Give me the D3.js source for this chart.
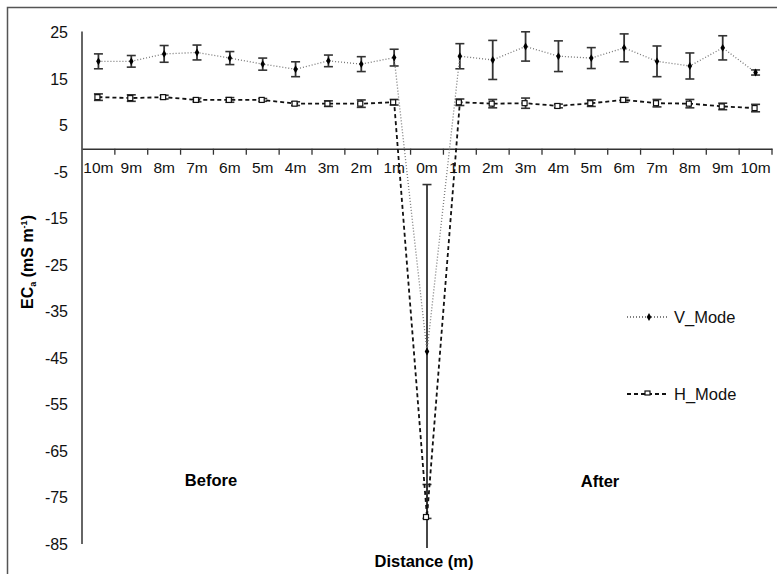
<!DOCTYPE html>
<html><head><meta charset="utf-8">
<script src="https://cdn.jsdelivr.net/npm/d3@7"></script>
<style>body{margin:0;background:#fff}svg{display:block;font-family:"Liberation Sans",Arial,sans-serif}</style>
</head><body>
<script>
const categories = ["10m","9m","8m","7m","6m","5m","4m","3m","2m","1m","0m","1m","2m","3m","4m","5m","6m","7m","8m","9m","10m"];
const vMode = [18.8,18.8,20.4,20.7,19.5,18.2,17.1,18.9,18.2,19.6,-43.6,19.9,19.1,22.0,19.9,19.5,21.7,18.8,17.8,21.7,16.4];
const vErr  = [1.6,1.25,1.8,1.6,1.4,1.3,1.6,1.25,1.6,1.8,35.9,2.7,4.2,3.15,3.3,2.25,3.0,3.3,2.8,2.6,0.55];
const hMode = [11.1,10.9,11.1,10.5,10.5,10.5,9.7,9.7,9.7,10.0,-79.2,10.0,9.7,9.8,9.2,9.8,10.5,9.8,9.7,9.1,8.75];
const hErr  = [0.7,0.7,0.4,0.4,0.5,0.3,0.4,0.6,0.8,0.6,7.0,0.7,0.9,1.1,0.4,0.7,0.5,0.8,0.9,0.7,0.8];
const yTicks = [25,15,5,-5,-15,-25,-35,-45,-55,-65,-75,-85];

const W=777,H=574;
const svg=d3.select("body").append("svg").attr("width",W).attr("height",H);
svg.append("defs").append("clipPath").attr("id","clip").append("rect")
  .attr("x",0).attr("y",0).attr("width",W).attr("height",548);
// outer frame (top & left visible)
svg.append("rect").attr("x",7.5).attr("y",7.5).attr("width",W+20).attr("height",H+20)
  .attr("fill","none").attr("stroke","#555").attr("stroke-width",1.5);

const x0=82,x1=772;
const x=d3.scaleBand().domain(d3.range(categories.length)).range([x0,x1]).padding(0);
const y=d3.scaleLinear().domain([-85,25]).range([544,32.5]);
const cx=i=>x(i)+x.bandwidth()/2;

// y axis line
svg.append("line").attr("x1",x0).attr("x2",x0).attr("y1",y(25)-1).attr("y2",y(-85))
  .attr("stroke","#333").attr("stroke-width",1.5);
// y tick labels
svg.append("g").selectAll("text").data(yTicks).join("text")
  .attr("x",68).attr("y",d=>y(d)).attr("dy","0.35em").attr("text-anchor","end")
  .attr("font-size",16).attr("fill","#111").text(d=>d);

// x axis at 0
const xAxis=d3.axisBottom(x).tickSize(0).tickFormat(i=>categories[i]);
const gx=svg.append("g").attr("transform",`translate(0,${y(0)})`).call(xAxis);
gx.select(".domain").attr("stroke","#333").attr("stroke-width",1.5);
gx.selectAll("text").attr("font-size",15.5).attr("fill","#111").attr("dy","0").attr("y",24).attr("font-family","Liberation Sans, Arial, sans-serif");
// boundary tick marks
svg.append("g").selectAll("line").data(d3.range(1,categories.length+1)).join("line")
  .attr("x1",i=>i<categories.length?x(i):x1).attr("x2",i=>i<categories.length?x(i):x1)
  .attr("y1",y(0)).attr("y2",y(0)+6).attr("stroke","#333").attr("stroke-width",1.3);

// error bars
function errBars(vals,errs){
  const g=svg.append("g").attr("clip-path","url(#clip)");
  vals.forEach((v,i)=>{
    const xx=cx(i), t=y(v+errs[i]), b=y(v-errs[i]);
    g.append("line").attr("x1",xx).attr("x2",xx).attr("y1",t).attr("y2",b).attr("stroke","#333").attr("stroke-width",1.8);
    g.append("line").attr("x1",xx-4.5).attr("x2",xx+4.5).attr("y1",t).attr("y2",t).attr("stroke","#333").attr("stroke-width",1.6);
    g.append("line").attr("x1",xx-4.5).attr("x2",xx+4.5).attr("y1",b).attr("y2",b).attr("stroke","#333").attr("stroke-width",1.6);
  });
}
errBars(vMode,vErr);
errBars(hMode,hErr);

const line=d3.line().x((d,i)=>cx(i)).y(d=>y(d));
svg.append("path").datum(vMode).attr("d",line).attr("fill","none")
  .attr("stroke","#777").attr("stroke-width",1.3).attr("stroke-dasharray","1,2");
svg.append("path").datum(hMode).attr("d",line).attr("fill","none")
  .attr("stroke","#111").attr("stroke-width",1.8).attr("stroke-dasharray","4,3");

// markers
svg.append("g").selectAll("path").data(vMode).join("path")
  .attr("d",d3.symbol(d3.symbolDiamond,18)).attr("transform",(d,i)=>`translate(${cx(i)},${y(d)})`).attr("fill","#000");
svg.append("g").selectAll("rect").data(hMode).join("rect")
  .attr("x",(d,i)=>cx(i)-3.5).attr("y",d=>y(d)-2.5).attr("width",5).attr("height",5)
  .attr("fill","#fff").attr("stroke","#111").attr("stroke-width",1.2);

// legend
const lg=svg.append("g");
lg.append("line").attr("x1",627).attr("x2",668).attr("y1",317).attr("y2",317).attr("stroke","#555").attr("stroke-width",1.3).attr("stroke-dasharray","1,2");
lg.append("path").attr("d",d3.symbol(d3.symbolDiamond,18)).attr("transform","translate(649,317)").attr("fill","#000");
lg.append("text").attr("x",674).attr("y",317).attr("dy","0.35em").attr("font-size",16.5).attr("fill","#111").text("V_Mode");
lg.append("line").attr("x1",627).attr("x2",668).attr("y1",394).attr("y2",394).attr("stroke","#111").attr("stroke-width",1.8).attr("stroke-dasharray","4,3");
lg.append("rect").attr("x",645).attr("y",391).attr("width",5).attr("height",4).attr("fill","#fff").attr("stroke","#111").attr("stroke-width",1.2);
lg.append("text").attr("x",674).attr("y",394).attr("dy","0.35em").attr("font-size",16.5).attr("fill","#111").text("H_Mode");

// annotations
svg.append("text").attr("x",211).attr("y",480).attr("dy","0.35em").attr("text-anchor","middle").attr("font-size",16.5).attr("font-weight","bold").text("Before");
svg.append("text").attr("x",600).attr("y",481).attr("dy","0.35em").attr("text-anchor","middle").attr("font-size",16.5).attr("font-weight","bold").text("After");
svg.append("text").attr("x",424).attr("y",561).attr("dy","0.35em").attr("text-anchor","middle").attr("font-size",16.5).attr("font-weight","bold").text("Distance (m)");

// y title
const yt=svg.append("text").attr("transform","translate(33,262) rotate(-90)").attr("text-anchor","middle")
  .attr("font-size",16).attr("font-weight","bold");
yt.append("tspan").text("EC");
yt.append("tspan").attr("font-size",9).attr("dy",3).text("a");
yt.append("tspan").attr("dy",-3).text(" (mS m");
yt.append("tspan").attr("font-size",9).attr("dy",-6).text("-1");
yt.append("tspan").attr("dy",6).text(")");
</script>
</body></html>
